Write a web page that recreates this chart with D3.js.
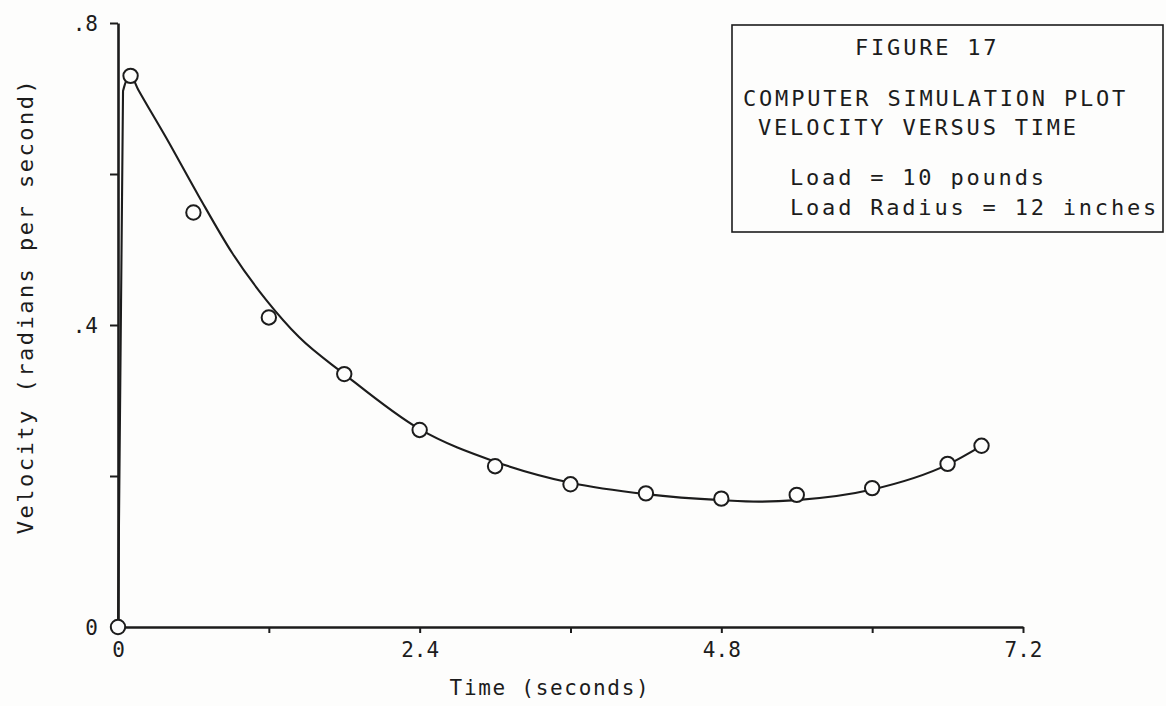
<!DOCTYPE html>
<html>
<head>
<meta charset="utf-8">
<script src="https://cdn.jsdelivr.net/npm/d3@7"></script>
<style>
  html, body { margin: 0; padding: 0; background: #fdfdfc; }
  svg text { font-family: "DejaVu Sans Mono", monospace; fill: #1c1c1c; }
</style>
</head>
<body>
<svg id="chart" width="1166" height="706"></svg>
<script>
// Simulated points (time in seconds, velocity in rad/s)
const pointTime = [0, 0.1, 0.6, 1.2, 1.8, 2.4, 3.0, 3.6, 4.2, 4.8, 5.4, 6.0, 6.6, 6.87];
const pointVel  = [0, 0.73, 0.549, 0.41, 0.335, 0.261, 0.213, 0.189, 0.177, 0.170, 0.175, 0.184, 0.216, 0.240];

// Hand-faired response curve through the simulation output
const curveTime = [0, 0.04, 0.1, 0.16, 0.38, 0.645, 0.91, 1.18, 1.44, 1.8, 2.4, 3.0, 3.6, 4.2, 4.8, 5.1, 5.4, 6.0, 6.6, 6.87];
const curveVel  = [0, 0.71, 0.73, 0.712, 0.649, 0.57, 0.495, 0.433, 0.384, 0.335, 0.262, 0.219, 0.191, 0.176, 0.168, 0.166, 0.168, 0.182, 0.215, 0.240];

// Axis ticks and their printed labels
const xTicks = [0, 1.2, 2.4, 3.6, 4.8, 6.0, 7.2];
const xTickLabels = ["0", "", "2.4", "", "4.8", "", "7.2"];
const yTicks = [0, 0.2, 0.4, 0.6, 0.8];
const yTickLabels = ["0", "", ".4", "", ".8"];

const boxLines = ["FIGURE 17", "COMPUTER SIMULATION PLOT", "VELOCITY VERSUS TIME", "Load = 10 pounds", "Load Radius = 12 inches"];

const ink = "#1c1c1c";
const svg = d3.select("#chart");

const x = d3.scaleLinear().domain([0, 7.2]).range([118, 1023]);
const y = d3.scaleLinear().domain([0, 0.8]).range([627, 23]);

// Axes
const xAxis = d3.axisBottom(x)
  .tickValues(xTicks)
  .tickSize(6)
  .tickSizeOuter(0)
  .tickPadding(9)
  .tickFormat((d, i) => xTickLabels[i]);
const yAxis = d3.axisLeft(y)
  .tickValues(yTicks)
  .tickSize(8)
  .tickSizeOuter(0)
  .tickPadding(12)
  .tickFormat((d, i) => yTickLabels[i]);

const gx = svg.append("g").attr("transform", `translate(0,${y(0)})`).call(xAxis);
const gy = svg.append("g").attr("transform", `translate(${x(0)},0)`).call(yAxis);

[gx, gy].forEach(g => {
  g.select(".domain").attr("stroke", ink).attr("stroke-width", 2.6);
  g.selectAll(".tick line").attr("stroke", ink).attr("stroke-width", 2);
  g.selectAll(".tick text").attr("fill", ink).attr("font-size", 21)
    .attr("font-family", "DejaVu Sans Mono, monospace");
});
gy.selectAll(".tick text").attr("dy", "0.36em");

// Axis titles
svg.append("text")
  .attr("x", 550).attr("y", 695)
  .attr("text-anchor", "middle")
  .attr("font-size", 21)
  .attr("letter-spacing", 1.7)
  .text("Time (seconds)");

svg.append("text")
  .attr("transform", `translate(33,${306}) rotate(-90)`)
  .attr("text-anchor", "middle")
  .attr("font-size", 22)
  .attr("letter-spacing", 2.5)
  .text("Velocity (radians per second)");

// Faired curve
const line = d3.line()
  .x((d, i) => x(curveTime[i]))
  .y((d, i) => y(curveVel[i]))
  .curve(d3.curveMonotoneX);

svg.append("path")
  .datum(curveVel)
  .attr("d", line)
  .attr("fill", "none")
  .attr("stroke", ink)
  .attr("stroke-width", 2.1);

// Simulation points
svg.append("g").selectAll("circle")
  .data(pointVel)
  .join("circle")
  .attr("cx", (d, i) => x(pointTime[i]))
  .attr("cy", d => y(d))
  .attr("r", 7.2)
  .attr("fill", "#fdfdfc")
  .attr("stroke", ink)
  .attr("stroke-width", 2);

// Caption box
const box = svg.append("g");
box.append("rect")
  .attr("x", 732).attr("y", 25)
  .attr("width", 431).attr("height", 207)
  .attr("fill", "none")
  .attr("stroke", ink)
  .attr("stroke-width", 1.6);

const lineX = [855, 743, 758, 790, 790];
const lineY = [55, 106, 135, 185, 215];
box.selectAll("text.cap")
  .data(boxLines)
  .join("text")
  .attr("class", "cap")
  .attr("x", (d, i) => lineX[i])
  .attr("y", (d, i) => lineY[i])
  .attr("font-size", 22)
  .attr("letter-spacing", 2.8)
  .text(d => d);
</script>
</body>
</html>
